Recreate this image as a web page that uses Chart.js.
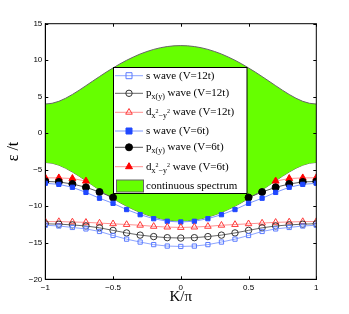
<!DOCTYPE html>
<html>
<head>
<meta charset="utf-8">
<script src="https://cdn.jsdelivr.net/npm/chart.js@4/dist/chart.umd.min.js"></script>
<style>
  body { margin: 0; background: #fff; }
  canvas { display: block; }
</style>
</head>
<body>
<canvas id="bound_chart" width="349" height="314"></canvas>
<script>
// momentum K/pi for the bound state curves
var K = [-1, -0.9, -0.8, -0.7, -0.6, -0.5, -0.4, -0.3, -0.2, -0.1, 0,
	0.1, 0.2, 0.3, 0.4, 0.5, 0.6, 0.7, 0.8, 0.9, 1];

var sWave12 = [-12.6, -12.7, -12.9, -13.1, -13.45, -14.0, -14.5, -14.9, -15.25, -15.45, -15.5,
	-15.45, -15.25, -14.9, -14.5, -14.0, -13.45, -13.1, -12.9, -12.7, -12.6];
var pWave12 = [-12.4, -12.45, -12.55, -12.7, -12.95, -13.3, -13.65, -13.95, -14.15, -14.3, -14.35,
	-14.3, -14.15, -13.95, -13.65, -13.3, -12.95, -12.7, -12.55, -12.45, -12.4];
var dWave12 = [-12.1, -12.1, -12.15, -12.2, -12.3, -12.4, -12.5, -12.6, -12.75, -12.85, -12.9,
	-12.85, -12.75, -12.6, -12.5, -12.4, -12.3, -12.2, -12.15, -12.1, -12.1];
var sWave6 = [-6.85, -7.0, -7.4, -8.1, -8.9, -9.6, -10.45, -11.15, -11.7, -12.05, -12.15,
	-12.05, -11.7, -11.15, -10.45, -9.6, -8.9, -8.1, -7.4, -7.0, -6.85];
var pWave6 = [-6.6, -6.67, -6.95, -7.4, -8.05, -8.8, null, null, null, null, null,
	null, null, null, null, -8.8, -8.05, -7.4, -6.95, -6.67, -6.6];
var dWave6 = [-6.1, -6.12, -6.2, -6.55, null, null, null, null, null, null, null,
	null, null, null, null, null, null, -6.55, -6.2, -6.12, -6.1];

// continuous spectrum edges
var kSpec = [-1, -0.95, -0.9, -0.85, -0.8, -0.75, -0.7, -0.65, -0.6, -0.55, -0.5,
	-0.45, -0.4, -0.35, -0.3, -0.25, -0.2, -0.15, -0.1, -0.05, 0,
	0.05, 0.1, 0.15, 0.2, 0.25, 0.3, 0.35, 0.4, 0.45, 0.5,
	0.55, 0.6, 0.65, 0.7, 0.75, 0.8, 0.85, 0.9, 0.95, 1];
var specUpper = [4, 4.1, 4.37, 4.79, 5.31, 5.89, 6.51, 7.14, 7.76, 8.37, 8.94,
	9.49, 9.99, 10.44, 10.85, 11.19, 11.48, 11.71, 11.87, 11.97, 12,
	11.97, 11.87, 11.71, 11.48, 11.19, 10.85, 10.44, 9.99, 9.49, 8.94,
	8.37, 7.76, 7.14, 6.51, 5.89, 5.31, 4.79, 4.37, 4.1, 4];
var specLower = [-4, -4.1, -4.37, -4.79, -5.31, -5.89, -6.51, -7.14, -7.76, -8.37, -8.94,
	-9.49, -9.99, -10.44, -10.85, -11.19, -11.48, -11.71, -11.87, -11.97, -12,
	-11.97, -11.87, -11.71, -11.48, -11.19, -10.85, -10.44, -9.99, -9.49, -8.94,
	-8.37, -7.76, -7.14, -6.51, -5.89, -5.31, -4.79, -4.37, -4.1, -4];

var yTicks = [-20, -15, -10, -5, 0, 5, 10, 15];
var xTicks = [-1, -0.5, 0, 0.5, 1];

var GREEN = '#66ff00';

function pts(xs, ys) {
	return xs.map(function (x, i) { return { x: x, y: ys[i] } })
}

function fmt(v) {
	return v < 0 ? '\u2212' + Math.abs(v) : String(v)
}

function curve(label, ys, line, mark, fillMark, style, rad) {
	return {
		label: label,
		data: pts(K, ys),
		borderColor: line,
		borderWidth: 1,
		pointStyle: style,
		pointRadius: rad,
		pointBorderColor: mark,
		pointBorderWidth: 1,
		pointBackgroundColor: fillMark ? mark : 'rgba(0,0,0,0)',
		spanGaps: false,
		fill: false,
		order: 1
	}
}

var datasets = [
	{
		label: 'upper', data: pts(kSpec, specUpper),
		borderColor: '#666', borderWidth: 1, pointRadius: 0,
		backgroundColor: GREEN, fill: '+1', order: 10
	},
	{
		label: 'lower', data: pts(kSpec, specLower),
		borderColor: '#666', borderWidth: 1, pointRadius: 0,
		fill: false, order: 10
	},
	curve('s12', sWave12, '#8ca4ff', '#5c7cff', false, 'rect', 3),
	curve('p12', pWave12, '#666', '#333', false, 'circle', 3.2),
	curve('d12', dWave12, '#ff9090', '#ff3838', false, 'triangle', 3.8),
	curve('s6', sWave6, '#7c98ff', '#2048ff', true, 'rect', 3),
	curve('p6', pWave6, '#555', '#000', true, 'circle', 3.5),
	curve('d6', dWave6, '#ff9090', '#ff0000', true, 'triangle', 4)
];

// legend rows: dataset index + label pieces (t, size, dy)
var legendRows = [
	{ ds: 2, parts: [['s wave (V=12t)', 11, 0]] },
	{ ds: 3, parts: [['p', 11, 0], ['x(y)', 8, 4], [' wave (V=12t)', 11, 0]] },
	{ ds: 4, parts: [['d', 11, 0], ['x', 8, 4], ['2', 6, -1], ['\u2212y', 8, 4], ['2', 6, -1], [' wave (V=12t)', 11, 0]] },
	{ ds: 5, parts: [['s wave (V=6t)', 11, 0]] },
	{ ds: 6, parts: [['p', 11, 0], ['x(y)', 8, 4], [' wave (V=6t)', 11, 0]] },
	{ ds: 7, parts: [['d', 11, 0], ['x', 8, 4], ['2', 6, -1], ['\u2212y', 8, 4], ['2', 6, -1], [' wave (V=6t)', 11, 0]] },
	{ ds: -1, parts: [['continuous spectrum', 11, 0]] }
];
var rowY = [75.7, 93.3, 112.3, 131, 147.3, 166.7, 186];

function marker(ctx, ds, x, y) {
	var r = ds.pointRadius
	ctx.save()
	ctx.lineWidth = 1
	ctx.strokeStyle = ds.pointBorderColor
	ctx.fillStyle = ds.pointBackgroundColor
	ctx.beginPath()
	if (ds.pointStyle === 'rect') {
		ctx.rect(x - r, y - r, 2 * r, 2 * r)
	} else if (ds.pointStyle === 'circle') {
		ctx.arc(x, y, r, 0, Math.PI * 2)
	} else {
		ctx.moveTo(x, y - r)
		ctx.lineTo(x + r * 0.87, y + r * 0.5)
		ctx.lineTo(x - r * 0.87, y + r * 0.5)
		ctx.closePath()
	}
	ctx.fill()
	ctx.stroke()
	ctx.restore()
}

var framePlugin = {
	id: 'frame',
	afterDraw: function (chart) {
		var ctx = chart.ctx
		var a = chart.chartArea
		var sx = chart.scales.x, sy = chart.scales.y
		ctx.save()
		ctx.strokeStyle = '#000'
		ctx.lineWidth = 1
		ctx.strokeRect(a.left, a.top, a.right - a.left, a.bottom - a.top)
		// inward ticks on all sides
		ctx.beginPath()
		xTicks.forEach(function (v) {
			var px = Math.round(sx.getPixelForValue(v)) + 0.5
			ctx.moveTo(px, a.bottom); ctx.lineTo(px, a.bottom - 3)
			ctx.moveTo(px, a.top); ctx.lineTo(px, a.top + 3)
		})
		yTicks.forEach(function (v) {
			var py = Math.round(sy.getPixelForValue(v)) + 0.5
			ctx.moveTo(a.left, py); ctx.lineTo(a.left + 3, py)
			ctx.moveTo(a.right, py); ctx.lineTo(a.right - 3, py)
		})
		ctx.stroke()

		// legend box
		var bx = 113.5, by = 67.5, bw = 133.5, bh = 126
		ctx.fillStyle = '#fff'
		ctx.fillRect(bx, by, bw, bh)
		ctx.strokeStyle = '#000'
		ctx.strokeRect(bx, by, bw, bh)
		ctx.textBaseline = 'middle'
		ctx.textAlign = 'left'
		legendRows.forEach(function (row, i) {
			var y = rowY[i]
			if (row.ds >= 0) {
				var ds = chart.data.datasets[row.ds]
				ctx.strokeStyle = ds.borderColor
				ctx.lineWidth = 1
				ctx.beginPath()
				ctx.moveTo(115, y); ctx.lineTo(143, y)
				ctx.stroke()
				marker(ctx, ds, 129, y)
			} else {
				ctx.fillStyle = GREEN
				ctx.fillRect(116.5, y - 6, 27, 12)
				ctx.strokeStyle = '#666'
				ctx.strokeRect(116.5, y - 6, 27, 12)
			}
			var x = 146
			ctx.fillStyle = '#000'
			row.parts.forEach(function (p) {
				ctx.font = p[1] + 'px "Liberation Serif"'
				ctx.fillText(p[0], x, y + p[2])
				x += ctx.measureText(p[0]).width
			})
		})
		ctx.restore()
	}
};

var config = {
	type: 'line',
	data: { datasets: datasets },
	options: {
		responsive: false,
		animation: false,
		layout: { padding: { left: 0, right: 32.7, top: 23.7, bottom: 0 } },
		plugins: { legend: { display: false }, tooltip: { enabled: false } },
		scales: {
			x: {
				type: 'linear', min: -1, max: 1,
				afterBuildTicks: function (s) { s.ticks = xTicks.map(function (v) { return { value: v } }) },
				afterFit: function (s) { s.height = 34.7 },
				grid: { display: false, drawTicks: false },
				border: { display: true, color: '#000' },
				ticks: {
					padding: 4, color: '#000',
					font: { family: '"Liberation Sans"', size: 8 },
					callback: fmt
				},
				title: {
					display: true, text: 'K/\u03c0', color: '#000',
					font: { family: '"Liberation Serif"', size: 15 },
					padding: { top: 0, bottom: 7.5 }
				}
			},
			y: {
				type: 'linear', min: -20, max: 15,
				afterBuildTicks: function (s) { s.ticks = yTicks.map(function (v) { return { value: v } }) },
				afterFit: function (s) { s.width = 45.3 },
				grid: { display: false, drawTicks: false },
				border: { display: true, color: '#000' },
				ticks: {
					padding: 3, color: '#000',
					font: { family: '"Liberation Sans"', size: 8 },
					callback: fmt
				},
				title: {
					display: true, text: '\u03b5 /t', color: '#000',
					font: { family: '"Liberation Serif"', size: 16 },
					padding: { top: 4.5, bottom: 0 }
				}
			}
		}
	},
	plugins: [framePlugin]
};

var ctx = document.getElementById('bound_chart')
var chart = new Chart(ctx, config)
</script>
</body>
</html>
